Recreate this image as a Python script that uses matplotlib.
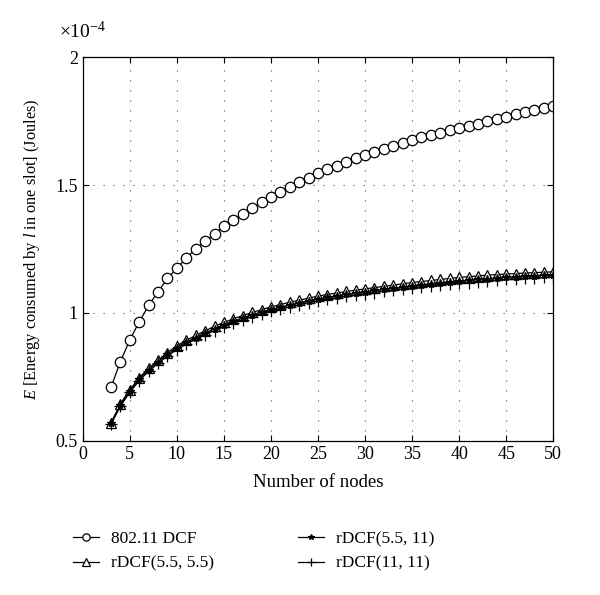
import numpy as np
import matplotlib.pyplot as plt
from matplotlib.ticker import FuncFormatter

plt.rcParams['font.family'] = ['Liberation Serif', 'DejaVu Serif']
plt.rcParams['mathtext.fontset'] = 'custom'
plt.rcParams['mathtext.rm'] = 'Liberation Serif'
plt.rcParams['mathtext.it'] = 'Liberation Serif:italic'

nodes = np.arange(3, 51)

# energy values in units of 1e-4 J
dcf = [0.71, 0.81, 0.895, 0.965, 1.03, 1.083, 1.135, 1.175, 1.215, 1.25,
       1.28, 1.31, 1.338, 1.362, 1.386, 1.41, 1.432, 1.453, 1.473, 1.492,
       1.511, 1.529, 1.546, 1.561, 1.576, 1.59, 1.604, 1.617, 1.629, 1.641,
       1.653, 1.665, 1.676, 1.686, 1.696, 1.705, 1.714, 1.722, 1.731, 1.74,
       1.749, 1.758, 1.767, 1.776, 1.784, 1.792, 1.80, 1.809]
r55_55 = [0.571, 0.645, 0.70, 0.747, 0.784, 0.815, 0.845, 0.872, 0.893, 0.912,
          0.93, 0.948, 0.963, 0.977, 0.99, 1.002, 1.013, 1.024, 1.033, 1.042,
          1.05, 1.058, 1.066, 1.072, 1.078, 1.084, 1.089, 1.094, 1.099, 1.104,
          1.109, 1.114, 1.119, 1.123, 1.127, 1.131, 1.135, 1.139, 1.142, 1.145,
          1.148, 1.15, 1.152, 1.154, 1.156, 1.158, 1.159, 1.161]
r55_11 = [0.568, 0.64, 0.695, 0.741, 0.778, 0.809, 0.838, 0.864, 0.885, 0.904,
          0.922, 0.939, 0.954, 0.968, 0.981, 0.993, 1.004, 1.014, 1.023, 1.032,
          1.04, 1.048, 1.055, 1.061, 1.067, 1.073, 1.078, 1.083, 1.088, 1.093,
          1.097, 1.102, 1.106, 1.11, 1.114, 1.118, 1.122, 1.125, 1.128, 1.131,
          1.134, 1.137, 1.14, 1.142, 1.144, 1.146, 1.148, 1.15]
r11_11 = [0.565, 0.636, 0.69, 0.736, 0.772, 0.803, 0.832, 0.857, 0.878, 0.897,
          0.915, 0.931, 0.946, 0.96, 0.973, 0.985, 0.996, 1.006, 1.015, 1.024,
          1.032, 1.04, 1.047, 1.053, 1.059, 1.065, 1.07, 1.075, 1.08, 1.085,
          1.089, 1.094, 1.098, 1.102, 1.106, 1.11, 1.113, 1.116, 1.119, 1.122,
          1.125, 1.128, 1.131, 1.133, 1.135, 1.137, 1.139, 1.141]

fig = plt.figure(figsize=(6, 5.95), dpi=100)
ax = fig.add_axes([0.138, 0.259, 0.784, 0.645])

lw = 0.9
h1, = ax.plot(nodes, dcf, 'k-', marker='o', mfc='white', ms=7.5, lw=lw, mew=0.9, label='802.11 DCF')
h2, = ax.plot(nodes, r55_55, 'k-', marker='^', mfc='white', ms=7.5, lw=lw, mew=0.9, label='rDCF(5.5, 5.5)')
h3, = ax.plot(nodes, r55_11, 'k-', marker='*', ms=6, lw=lw, mew=0.9, label='rDCF(5.5, 11)')
h4, = ax.plot(nodes, r11_11, 'k-', marker='+', ms=8, lw=lw, mew=0.9, label='rDCF(11, 11)')

ax.set_xlim(0, 50)
ax.set_ylim(0.5, 2)
ax.set_xticks(np.arange(0, 51, 5))
ax.set_yticks([0.5, 1, 1.5, 2])
ax.yaxis.set_major_formatter(FuncFormatter(lambda v, p: '%g' % v))
ax.tick_params(direction='in', top=True, right=True, labelsize=13, length=4, width=0.8)
ax.grid(True, color='0.3', linestyle=(0, (1, 8)), linewidth=0.8)
for s in ax.spines.values():
    s.set_linewidth(0.9)

ax.set_xlabel('Number of nodes', fontsize=13.5, labelpad=8)
ax.set_ylabel('$E$ [Energy consumed by $l$ in one slot] (Joules)', fontsize=11.8, labelpad=10)
ax.text(-0.05, 1.05, r'$\times10^{-4}$', transform=ax.transAxes, fontsize=14, ha='left', va='baseline')

leg_kw = dict(loc='upper left', frameon=False, fontsize=12.5, handlelength=1.5,
              handletextpad=0.7, labelspacing=0.5, markerscale=0.7, borderpad=0, borderaxespad=0)
leg1 = fig.legend(handles=[h1, h2], bbox_to_anchor=(0.122, 0.108), **leg_kw)
leg2 = fig.legend(handles=[h3, h4], bbox_to_anchor=(0.497, 0.108), **leg_kw)

fig.savefig('out.png', dpi=100)
